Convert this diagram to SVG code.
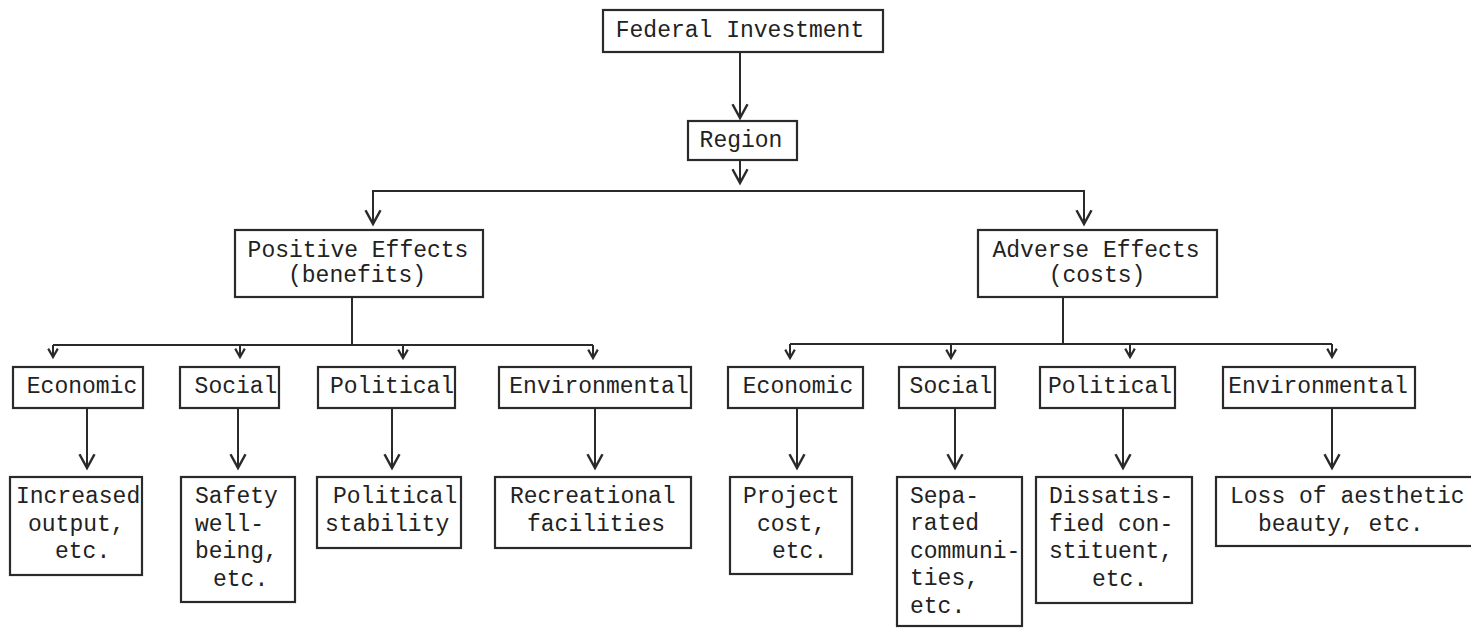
<svg xmlns="http://www.w3.org/2000/svg" width="1471" height="628" viewBox="0 0 1471 628">
  <style>
    .box { fill: none; stroke: #2a2a2a; stroke-width: 2.2; }
    .wire { fill: none; stroke: #2a2a2a; stroke-width: 2; }
    .lbl { font-family: "Liberation Mono", "Courier New", monospace; font-size: 23px; fill: #222; }
    .c { text-anchor: middle; }
  </style>
  <defs>
    <marker id="arrow" markerUnits="userSpaceOnUse" markerWidth="20" markerHeight="20" refX="0" refY="0" orient="auto" viewBox="-12 -8 14 16" overflow="visible">
      <path d="M-11,-6 L0,0 L-11,6" fill="none" stroke="#2a2a2a" stroke-width="2"/>
    </marker>
    <marker id="tick" markerUnits="userSpaceOnUse" markerWidth="12" markerHeight="12" refX="0" refY="0" orient="auto" viewBox="-8 -5 10 10" overflow="visible">
      <path d="M-7,-4 L0,0 L-7,4" fill="none" stroke="#2a2a2a" stroke-width="1.8"/>
    </marker>
  </defs>
  <rect width="1471" height="628" fill="#fff"/>

  <!-- connectors -->
  <g id="connectors">
    <line class="wire" x1="740" y1="52" x2="740" y2="118" marker-end="url(#arrow)"/>
    <line class="wire" x1="740" y1="160" x2="740" y2="183" marker-end="url(#arrow)"/>
    <line class="wire" x1="372" y1="191" x2="1085" y2="191"/>
    <line class="wire" x1="373" y1="191" x2="373" y2="224" marker-end="url(#arrow)"/>
    <line class="wire" x1="1084" y1="191" x2="1084" y2="224" marker-end="url(#arrow)"/>

    <!-- positive effects branch -->
    <line class="wire" x1="352" y1="297" x2="352" y2="345"/>
    <line class="wire" x1="53" y1="345" x2="593" y2="345"/>
    <line class="wire" x1="53" y1="345" x2="53" y2="357" marker-end="url(#tick)"/>
    <line class="wire" x1="240" y1="345" x2="240" y2="357" marker-end="url(#tick)"/>
    <line class="wire" x1="403" y1="345" x2="403" y2="358" marker-end="url(#tick)"/>
    <line class="wire" x1="593" y1="345" x2="593" y2="358" marker-end="url(#tick)"/>

    <!-- adverse effects branch -->
    <line class="wire" x1="1063" y1="297" x2="1063" y2="344"/>
    <line class="wire" x1="790" y1="344" x2="1332" y2="344"/>
    <line class="wire" x1="790" y1="344" x2="790" y2="358" marker-end="url(#tick)"/>
    <line class="wire" x1="951" y1="344" x2="951" y2="358" marker-end="url(#tick)"/>
    <line class="wire" x1="1130" y1="344" x2="1130" y2="357" marker-end="url(#tick)"/>
    <line class="wire" x1="1332" y1="344" x2="1332" y2="357" marker-end="url(#tick)"/>

    <!-- category to example -->
    <line class="wire" x1="87" y1="408" x2="87" y2="468" marker-end="url(#arrow)"/>
    <line class="wire" x1="238" y1="408" x2="238" y2="468" marker-end="url(#arrow)"/>
    <line class="wire" x1="392" y1="408" x2="392" y2="468" marker-end="url(#arrow)"/>
    <line class="wire" x1="595" y1="408" x2="595" y2="468" marker-end="url(#arrow)"/>
    <line class="wire" x1="797" y1="408" x2="797" y2="468" marker-end="url(#arrow)"/>
    <line class="wire" x1="955" y1="408" x2="955" y2="468" marker-end="url(#arrow)"/>
    <line class="wire" x1="1123" y1="408" x2="1123" y2="468" marker-end="url(#arrow)"/>
    <line class="wire" x1="1332" y1="408" x2="1332" y2="468" marker-end="url(#arrow)"/>
  </g>

  <!-- top levels -->
  <g id="federal-investment">
    <rect class="box" x="603" y="10" width="280" height="42"/>
    <text class="lbl c" x="740" y="37">Federal Investment</text>
  </g>
  <g id="region">
    <rect class="box" x="688" y="121" width="109" height="39"/>
    <text class="lbl c" x="741" y="147">Region</text>
  </g>
  <g id="positive-effects">
    <rect class="box" x="235" y="230" width="248" height="67"/>
    <text class="lbl c" x="358" y="257">Positive Effects</text>
    <text class="lbl c" x="357" y="282">(benefits)</text>
  </g>
  <g id="adverse-effects">
    <rect class="box" x="978" y="230" width="239" height="67"/>
    <text class="lbl c" x="1096" y="257">Adverse Effects</text>
    <text class="lbl c" x="1097" y="282">(costs)</text>
  </g>

  <!-- benefit categories -->
  <g id="pos-economic">
    <rect class="box" x="13" y="367" width="130" height="41"/>
    <text class="lbl c" x="82" y="393">Economic</text>
  </g>
  <g id="pos-social">
    <rect class="box" x="180" y="367" width="99" height="41"/>
    <text class="lbl c" x="236" y="393">Social</text>
  </g>
  <g id="pos-political">
    <rect class="box" x="318" y="367" width="137" height="41"/>
    <text class="lbl c" x="392" y="393">Political</text>
  </g>
  <g id="pos-environmental">
    <rect class="box" x="499" y="367" width="192" height="41"/>
    <text class="lbl c" x="599" y="393">Environmental</text>
  </g>

  <!-- cost categories -->
  <g id="neg-economic">
    <rect class="box" x="728" y="367" width="135" height="41"/>
    <text class="lbl c" x="798" y="393">Economic</text>
  </g>
  <g id="neg-social">
    <rect class="box" x="899" y="367" width="96" height="41"/>
    <text class="lbl c" x="951" y="393">Social</text>
  </g>
  <g id="neg-political">
    <rect class="box" x="1040" y="367" width="135" height="41"/>
    <text class="lbl c" x="1110" y="393">Political</text>
  </g>
  <g id="neg-environmental">
    <rect class="box" x="1223" y="367" width="192" height="41"/>
    <text class="lbl c" x="1318" y="393">Environmental</text>
  </g>

  <!-- benefit examples -->
  <g id="increased-output">
    <rect class="box" x="10" y="477" width="132" height="98"/>
    <text class="lbl" x="16" y="503">Increased</text>
    <text class="lbl" x="28" y="531">output,</text>
    <text class="lbl" x="55" y="558">etc.</text>
  </g>
  <g id="safety">
    <rect class="box" x="181" y="477" width="114" height="125"/>
    <text class="lbl" x="195" y="503">Safety</text>
    <text class="lbl" x="195" y="531">well-</text>
    <text class="lbl" x="195" y="558">being,</text>
    <text class="lbl" x="213" y="586">etc.</text>
  </g>
  <g id="political-stability">
    <rect class="box" x="317" y="477" width="144" height="71"/>
    <text class="lbl" x="333" y="503">Political</text>
    <text class="lbl" x="325" y="531">stability</text>
  </g>
  <g id="recreational">
    <rect class="box" x="495" y="477" width="196" height="71"/>
    <text class="lbl" x="510" y="503">Recreational</text>
    <text class="lbl" x="527" y="531">facilities</text>
  </g>

  <!-- cost examples -->
  <g id="project-cost">
    <rect class="box" x="730" y="477" width="122" height="97"/>
    <text class="lbl" x="743" y="503">Project</text>
    <text class="lbl" x="757" y="531">cost,</text>
    <text class="lbl" x="772" y="558">etc.</text>
  </g>
  <g id="separated-communities">
    <rect class="box" x="897" y="477" width="125" height="149"/>
    <text class="lbl" x="910" y="503">Sepa-</text>
    <text class="lbl" x="910" y="530">rated</text>
    <text class="lbl" x="910" y="558">communi-</text>
    <text class="lbl" x="910" y="585">ties,</text>
    <text class="lbl" x="910" y="613">etc.</text>
  </g>
  <g id="dissatisfied">
    <rect class="box" x="1036" y="477" width="156" height="126"/>
    <text class="lbl" x="1049" y="503">Dissatis-</text>
    <text class="lbl" x="1049" y="531">fied con-</text>
    <text class="lbl" x="1049" y="558">stituent,</text>
    <text class="lbl" x="1092" y="586">etc.</text>
  </g>
  <g id="aesthetic-loss">
    <rect class="box" x="1216" y="477" width="270" height="69"/>
    <text class="lbl" x="1230" y="503">Loss of aesthetic</text>
    <text class="lbl" x="1258" y="531">beauty, etc.</text>
  </g>
</svg>
